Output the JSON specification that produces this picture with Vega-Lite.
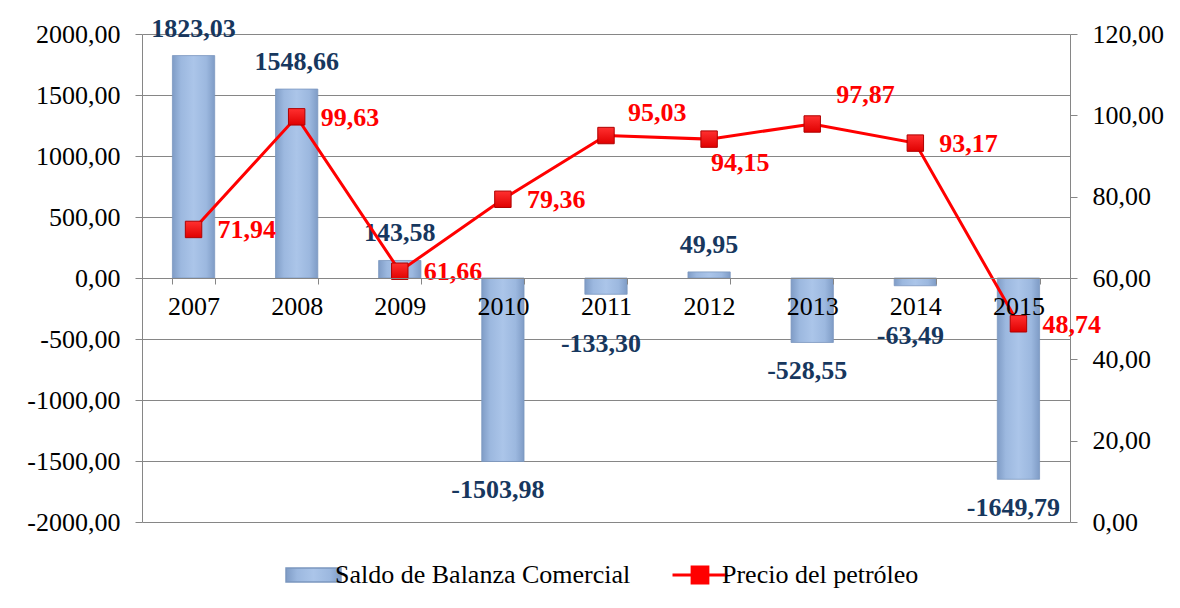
{
  "$schema": "https://vega.github.io/schema/vega-lite/v6.json",
  "width": 928,
  "height": 488,
  "autosize": "none",
  "padding": {"left": 142, "top": 34, "right": 110, "bottom": 86},
  "background": "white",
  "data": {
    "values": [
      {"year": "2007", "saldo": 1823.03, "precio": 71.94},
      {"year": "2008", "saldo": 1548.66, "precio": 99.63},
      {"year": "2009", "saldo": 143.58, "precio": 61.66},
      {"year": "2010", "saldo": -1503.98, "precio": 79.36},
      {"year": "2011", "saldo": -133.30, "precio": 95.03},
      {"year": "2012", "saldo": 49.95, "precio": 94.15},
      {"year": "2013", "saldo": -528.55, "precio": 97.87},
      {"year": "2014", "saldo": -63.49, "precio": 93.17},
      {"year": "2015", "saldo": -1649.79, "precio": 48.74}
    ]
  },
  "encoding": {
    "x": {
      "field": "year", "type": "nominal", "sort": null,
      "scale": {"paddingInner": 0.59, "paddingOuter": 0.295},
      "axis": {
        "title": null, "orient": "bottom", "offset": -244, "labelAngle": 0,
        "labelFont": "Liberation Serif", "labelFontSize": 26, "labelColor": "black",
        "labelPadding": 9, "tickBand": "extent", "tickSize": 6, "tickColor": "#868686",
        "domainColor": "#868686", "grid": false, "zindex": 1
      }
    }
  },
  "layer": [
    {
      "layer": [
        {
          "mark": {"type": "bar", "stroke": "#7b97bf", "strokeWidth": 0.8,
            "fill": {"gradient": "linear", "x1": 0, "x2": 1, "y1": 0, "y2": 0, "stops": [{"offset": 0, "color": "#7f9cc6"}, {"offset": 0.2, "color": "#9cb8df"}, {"offset": 0.5, "color": "#abc5e9"}, {"offset": 0.8, "color": "#9cb8df"}, {"offset": 1, "color": "#7f9cc6"}]}},
          "encoding": {
            "y": {
              "field": "saldo", "type": "quantitative",
              "scale": {"domain": [-2000, 2000], "nice": false},
              "axis": {
                "title": null, "values": [-2000, -1500, -1000, -500, 0, 500, 1000, 1500, 2000],
                "format": ".2f", "labelFont": "Liberation Serif", "labelFontSize": 26,
                "labelColor": "black", "labelPadding": 15, "tickSize": 7, "tickColor": "#868686",
                "domainColor": "#868686", "grid": true, "gridColor": "#868686", "zindex": 0
              }
            },
            "opacity": {
              "datum": "Saldo de Balanza Comercial", "type": "nominal",
              "scale": {"range": [1]},
              "legend": {
                "title": null, "orient": "bottom", "direction": "horizontal",
                "symbolType": "M-1.5,-0.38H1.5V0.38H-1.5Z", "symbolSize": 1344,
                "labelFont": "Liberation Serif", "labelFontSize": 26, "labelColor": "black",
                "labelOffset": 2, "labelLimit": 0, "offset": 33,
                "encode": {"symbols": {"update": {
                  "fill": {"value": {"gradient": "linear", "x1": 0, "x2": 0, "y1": 0, "y2": 1, "stops": [{"offset": 0, "color": "#c9dbf2"}, {"offset": 0.5, "color": "#9cb8df"}, {"offset": 1, "color": "#7f9cc6"}]}},
                  "stroke": {"value": "#7b97bf"}, "strokeWidth": {"value": 0.8}, "opacity": {"value": 1}}}}
              }
            }
          }
        },
        {
          "transform": [{"filter": "datum.saldo > 0"}],
          "mark": {"type": "text", "font": "Liberation Serif", "fontWeight": "bold", "fontSize": 26, "color": "#17375e", "baseline": "middle", "dy": -27},
          "encoding": {"y": {"field": "saldo", "type": "quantitative"}, "text": {"field": "saldo", "type": "quantitative", "format": ".2f"}}
        },
        {
          "transform": [{"filter": "datum.saldo < -200"}],
          "mark": {"type": "text", "font": "Liberation Serif", "fontWeight": "bold", "fontSize": 26, "color": "#17375e", "baseline": "middle", "dy": 29, "dx": -5},
          "encoding": {"y": {"field": "saldo", "type": "quantitative"}, "text": {"field": "saldo", "type": "quantitative", "format": ".2f"}}
        },
        {
          "transform": [{"filter": "datum.saldo < 0 && datum.saldo >= -200"}],
          "mark": {"type": "text", "font": "Liberation Serif", "fontWeight": "bold", "fontSize": 26, "color": "#17375e", "baseline": "middle", "dy": 50, "dx": -5},
          "encoding": {"y": {"field": "saldo", "type": "quantitative"}, "text": {"field": "saldo", "type": "quantitative", "format": ".2f"}}
        }
      ]
    },
    {
      "encoding": {
        "y": {
          "field": "precio", "type": "quantitative",
          "scale": {"domain": [0, 120], "nice": false},
          "axis": {
            "title": null, "orient": "right", "values": [0, 20, 40, 60, 80, 100, 120],
            "format": ".2f", "labelFont": "Liberation Serif", "labelFontSize": 26,
            "labelColor": "black", "labelPadding": 15, "tickSize": 7, "tickColor": "#868686",
            "domainColor": "#868686", "grid": false
          }
        }
      },
      "layer": [
        {
          "mark": {"type": "line", "strokeWidth": 3},
          "encoding": {
            "stroke": {
              "datum": "Precio del petróleo", "type": "nominal",
              "scale": {"range": ["#ff0000"]},
              "legend": {
                "title": null, "orient": "bottom", "direction": "horizontal",
                "symbolType": "M-1.5,0H1.5M-0.43,-0.43H0.43V0.43H-0.43Z", "symbolSize": 1344,
                "symbolStrokeWidth": 3,
                "labelFont": "Liberation Serif", "labelFontSize": 26, "labelColor": "black",
                "labelOffset": 2, "labelLimit": 0, "offset": 33,
                "encode": {"symbols": {"update": {"fill": {"value": "#ff0000"}, "stroke": {"value": "#ff0000"}}}}
              }
            }
          }
        },
        {
          "mark": {"type": "point", "shape": "square", "size": 270, "filled": true, "opacity": 1,
            "fill": {"gradient": "linear", "x1": 0, "x2": 0, "y1": 0, "y2": 1, "stops": [{"offset": 0, "color": "#ff3030"}, {"offset": 1, "color": "#e00000"}]},
            "stroke": "#b00000", "strokeWidth": 1}
        },
        {
          "transform": [{"filter": "indexof(['2007','2008','2009','2010','2014','2015'], datum.year) >= 0"}],
          "mark": {"type": "text", "font": "Liberation Serif", "fontWeight": "bold", "fontSize": 26, "color": "#ff0000", "align": "left", "baseline": "middle", "dx": 24, "dy": 1},
          "encoding": {"text": {"field": "precio", "type": "quantitative", "format": ".2f"}}
        },
        {
          "transform": [{"filter": "datum.year == '2011'"}],
          "mark": {"type": "text", "font": "Liberation Serif", "fontWeight": "bold", "fontSize": 26, "color": "#ff0000", "align": "left", "baseline": "middle", "dx": 22, "dy": -23},
          "encoding": {"text": {"field": "precio", "type": "quantitative", "format": ".2f"}}
        },
        {
          "transform": [{"filter": "datum.year == '2013'"}],
          "mark": {"type": "text", "font": "Liberation Serif", "fontWeight": "bold", "fontSize": 26, "color": "#ff0000", "align": "left", "baseline": "middle", "dx": 24, "dy": -29},
          "encoding": {"text": {"field": "precio", "type": "quantitative", "format": ".2f"}}
        },
        {
          "transform": [{"filter": "datum.year == '2012'"}],
          "mark": {"type": "text", "font": "Liberation Serif", "fontWeight": "bold", "fontSize": 26, "color": "#ff0000", "align": "left", "baseline": "middle", "dx": 2, "dy": 24},
          "encoding": {"text": {"field": "precio", "type": "quantitative", "format": ".2f"}}
        }
      ]
    }
  ],
  "resolve": {"scale": {"y": "independent"}},
  "config": {
    "font": "Liberation Serif",
    "view": {"stroke": null},
    "axis": {"labelFont": "Liberation Serif"},
    "legend": {"labelFont": "Liberation Serif", "layout": {"bottom": {"anchor": "middle", "direction": "horizontal", "center": true, "margin": 49}}},
    "text": {"font": "Liberation Serif"},
    "locale": {"number": {"decimal": ",", "thousands": ".", "grouping": [3], "currency": ["", ""], "minus": "-"}}
  }
}
